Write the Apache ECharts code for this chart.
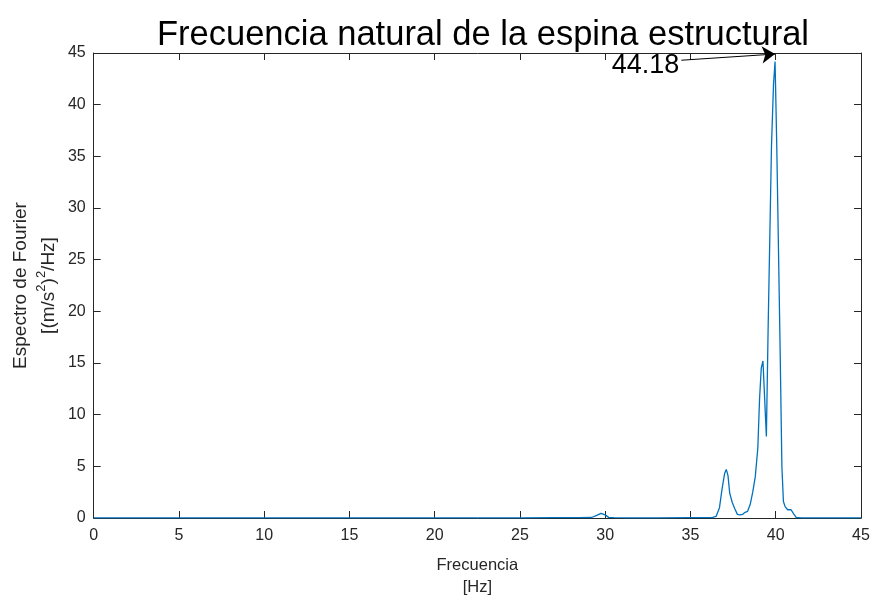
<!DOCTYPE html>
<html>
<head>
<meta charset="utf-8">
<script src="https://cdn.jsdelivr.net/npm/echarts@6/dist/echarts.min.js"></script>
<style>html,body{margin:0;padding:0;background:#fff}#c{width:876px;height:600px}</style>
</head>
<body>
<div id="c"></div>
<script>
// ---- data ----
const titleText = 'Frecuencia natural de la espina estructural';
const xName = 'Frecuencia\n[Hz]';
const yName = 'Espectro de Fourier\n[(m/s{sup|2}){sup|2}/Hz]';
const xTicks = [0, 5, 10, 15, 20, 25, 30, 35, 40, 45];
const yTicks = [0, 5, 10, 15, 20, 25, 30, 35, 40, 45];
const freq = [0, 2, 5, 8, 10, 12, 15, 18, 20, 22, 25, 27, 28.5, 29.2, 29.5, 29.75, 30.0, 30.2, 30.5, 31.5, 33, 35, 36, 36.3, 36.5, 36.7, 36.85, 37.0, 37.1, 37.2, 37.3, 37.45, 37.6, 37.75, 37.9, 38.05, 38.2, 38.35, 38.5, 38.65, 38.8, 38.95, 39.05, 39.15, 39.25, 39.45, 39.55, 39.65, 39.75, 39.87, 39.96, 40.06, 40.16, 40.26, 40.36, 40.45, 40.55, 40.7, 40.9, 41.05, 41.2, 41.5, 42, 43, 45];
const amp = [0.01, 0.01, 0.01, 0.02, 0.01, 0.01, 0.02, 0.01, 0.02, 0.01, 0.02, 0.03, 0.03, 0.05, 0.25, 0.45, 0.3, 0.06, 0.03, 0.02, 0.02, 0.03, 0.03, 0.05, 0.15, 1.0, 2.8, 4.3, 4.7, 4.1, 2.4, 1.5, 0.9, 0.35, 0.3, 0.35, 0.55, 0.65, 1.3, 2.5, 4.0, 6.8, 11.5, 14.5, 15.2, 7.9, 18, 27, 36, 42, 44.18, 36, 26, 16, 5, 1.6, 1.1, 0.8, 0.8, 0.4, 0.05, 0.02, 0.02, 0.01, 0.01];
const peakLabel = ['44.18'];
const arrowFrom = [34.46, 44.3];
const arrowTo = [39.96, 44.9];

const dark = '#262626';
const chart = echarts.init(document.getElementById('c'), null, {renderer: 'canvas'});
const axisCommon = {
  min: 0, max: 45, interval: 5,
  axisLine: {show: true, onZero: false, lineStyle: {color: dark, width: 1}},
  axisTick: {show: true, inside: true, length: 7, lineStyle: {color: dark}},
  splitLine: {show: false}
};
chart.setOption({
  animation: false,
  backgroundColor: '#fff',
  textStyle: {fontFamily: 'Liberation Sans'},
  title: {
    text: titleText, left: 478, top: 13, textAlign: 'center',
    textStyle: {fontFamily: 'Liberation Sans', fontSize: 34.5, fontWeight: 'normal', color: '#000'}
  },
  grid: {left: 93.7, right: 15, top: 53, bottom: 82, containLabel: false, outerBoundsMode: 'none'},
  xAxis: [
    Object.assign({}, axisCommon, {
      type: 'value', position: 'bottom',
      name: xName, nameLocation: 'middle', nameGap: 36,
      nameTextStyle: {fontSize: 16.5, color: dark, lineHeight: 22},
      axisLabel: {fontSize: 16, color: dark, margin: 10,
        customValues: xTicks}
    }),
    Object.assign({}, axisCommon, {
      type: 'value', position: 'top', axisLabel: {show: false}
    })
  ],
  yAxis: [
    Object.assign({}, axisCommon, {
      type: 'value', position: 'left',
      name: yName, nameLocation: 'middle', nameGap: 31, nameRotate: 90,
      nameMoveOverlap: false,
      nameTextStyle: {fontSize: 19, color: dark, lineHeight: 28,
        rich: {sup: {fontSize: 13, color: dark, lineHeight: 28, verticalAlign: 'top', fontFamily: 'Liberation Sans'}}},
      axisLabel: {fontSize: 16, color: dark, margin: 8, customValues: yTicks}
    }),
    Object.assign({}, axisCommon, {
      type: 'value', position: 'right', axisLabel: {show: false}
    })
  ],
  series: [{
    type: 'line',
    xAxisIndex: 0, yAxisIndex: 0,
    data: freq.map((f, i) => [f, amp[i]]),
    showSymbol: false,
    lineStyle: {color: '#0072BD', width: 1.3},
    itemStyle: {color: '#0072BD'},
    markLine: {
      silent: true,
      symbol: ['none', 'arrow'],
      symbolSize: 13,
      lineStyle: {color: '#000', width: 1, type: 'solid'},
      label: {show: true, position: 'start', formatter: peakLabel[0],
        fontSize: 27, color: '#000', fontFamily: 'Liberation Sans', distance: 2, offset: [0, 5]},
      data: [[{coord: arrowFrom}, {coord: arrowTo}]]
    }
  }]
});
</script>
</body>
</html>
